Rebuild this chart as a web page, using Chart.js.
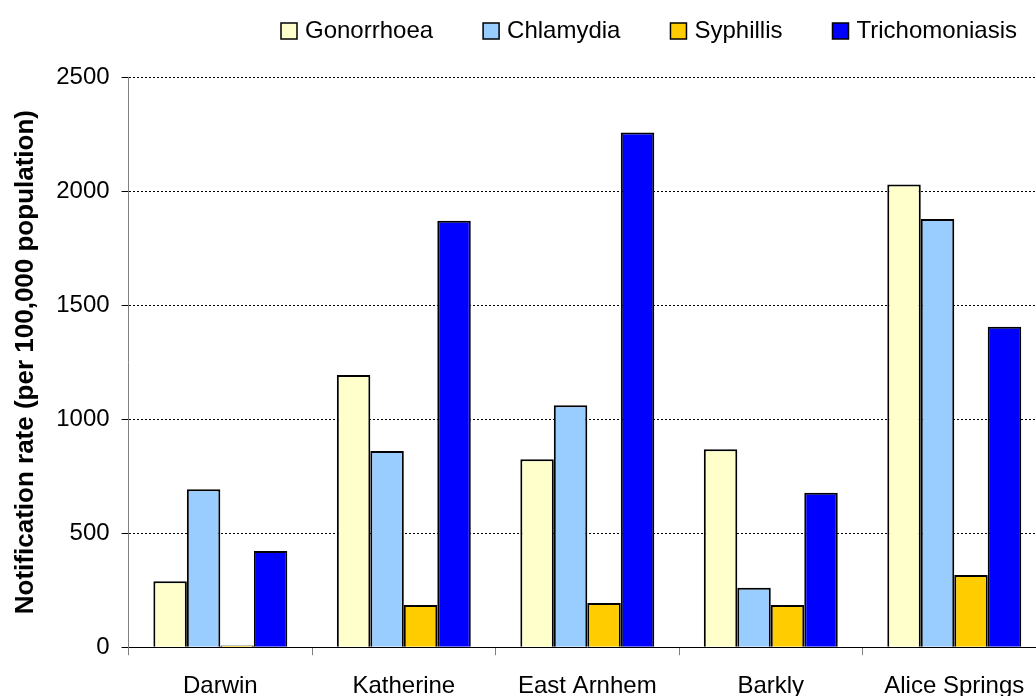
<!DOCTYPE html>
<html>
<head>
<meta charset="utf-8">
<script src="https://cdn.jsdelivr.net/npm/chart.js@4"></script>
<style>
html,body{margin:0;padding:0;background:#fff;overflow:hidden;}
#wrap{width:1046px;height:696px;}
</style>
</head>
<body>
<div id="wrap"><canvas id="c" width="1046" height="696"></canvas></div>
<script>
const categories = ['Darwin', 'Katherine', 'East Arnhem', 'Barkly', 'Alice Springs'];
const gonorrhoea = [289, 1193, 824, 868, 2029];
const chlamydia = [693, 860, 1061, 261, 1877];
const syphillis = [8, 185, 194, 185, 317];
const trichomoniasis = [422, 1870, 2257, 677, 1405];
const yTicks = [0, 500, 1000, 1500, 2000, 2500];

const FONT = 'Liberation Sans, Arial, sans-serif';

const customLegend = {
  id: 'customLegend',
  afterDraw(chart) {
    const ctx = chart.ctx;
    ctx.save();
    ctx.font = '24px ' + FONT;
    ctx.textBaseline = 'alphabetic';
    let x = 281;
    const gap = 50;
    chart.data.datasets.forEach(ds => {
      ctx.fillStyle = ds.backgroundColor;
      ctx.fillRect(x, 23, 16, 16);
      ctx.strokeStyle = '#000';
      ctx.lineWidth = 1.5;
      ctx.strokeRect(x, 23, 16, 16);
      ctx.fillStyle = '#000';
      ctx.fillText(ds.label, x + 24, 38);
      x += 24 + ctx.measureText(ds.label).width + gap;
    });
    ctx.restore();
  }
};

new Chart(document.getElementById('c'), {
  type: 'bar',
  data: {
    labels: categories,
    datasets: [
      {label: 'Gonorrhoea', data: gonorrhoea, backgroundColor: '#FFFFCC'},
      {label: 'Chlamydia', data: chlamydia, backgroundColor: '#99CCFF'},
      {label: 'Syphillis', data: syphillis, backgroundColor: '#FFCC00'},
      {label: 'Trichomoniasis', data: trichomoniasis, backgroundColor: '#0000FF'}
    ]
  },
  options: {
    responsive: false,
    animation: false,
    devicePixelRatio: 1,
    layout: {padding: {top: 77, left: 10, right: 0, bottom: -22}},
    datasets: {bar: {borderColor: '#000', borderWidth: 2, categoryPercentage: 0.73, barPercentage: 1}},
    plugins: {legend: {display: false}, tooltip: {enabled: false}},
    scales: {
      x: {
        grid: {display: true, drawOnChartArea: false, offset: true, tickLength: 8, tickColor: '#808080', tickWidth: 1},
        border: {display: true, color: '#000', width: 1},
        ticks: {color: '#000', font: {family: FONT, size: 24}, padding: 17, maxRotation: 0}
      },
      y: {
        min: 0, max: 2500,
        afterBuildTicks(scale) { scale.ticks = yTicks.map(v => ({value: v})); },
        grid: {color: '#000', lineWidth: 1, tickLength: 7, tickColor: '#000', tickWidth: 1},
        border: {display: true, color: '#808080', width: 1, dash: [2, 2]},
        ticks: {color: '#000', font: {family: FONT, size: 24}, padding: 12, callback: v => String(v)},
        title: {display: true, text: 'Notification rate (per 100,000 population)', color: '#000',
                font: {family: FONT, size: 26, weight: 'bold'}, padding: {top: 0, bottom: 3}}
      }
    }
  },
  plugins: [customLegend]
});
</script>
</body>
</html>
